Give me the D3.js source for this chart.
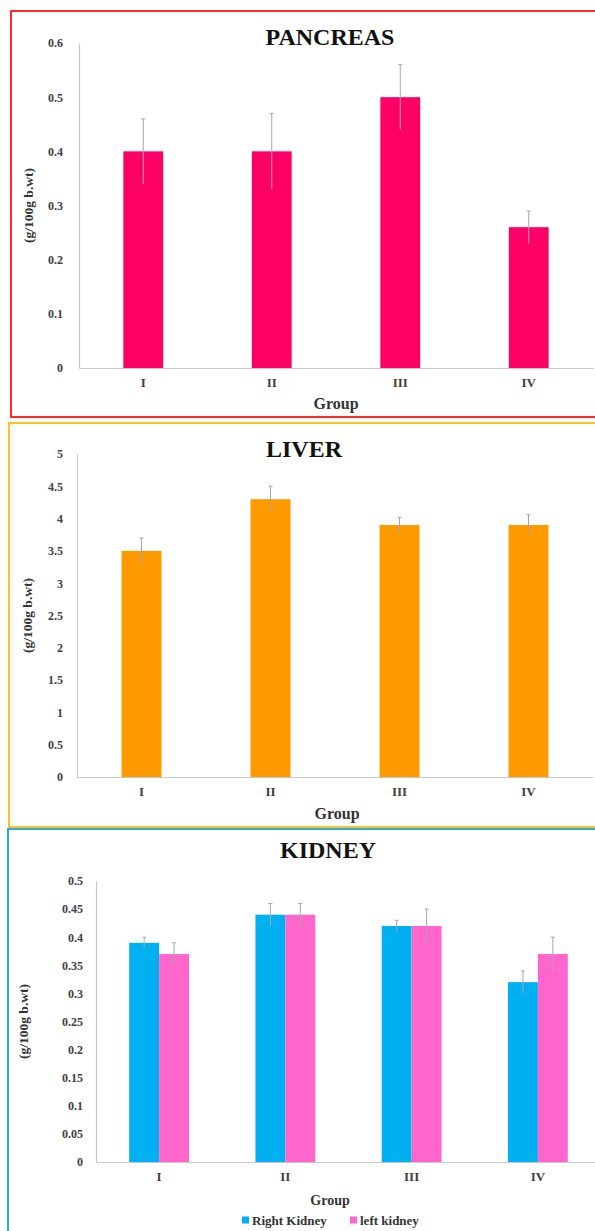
<!DOCTYPE html>
<html>
<head>
<meta charset="utf-8">
<script src="https://cdn.jsdelivr.net/npm/d3@7"></script>
<style>
  body { margin: 0; background: #fff; }
  svg { display: block; }
  .tick text { font-family: "Liberation Serif", "Times New Roman", serif; font-weight: bold; fill: #404040; }
  .title { font-family: "Liberation Serif", "Times New Roman", serif; font-weight: bold; font-size: 24px; fill: #111; }
  .label { font-family: "Liberation Serif", "Times New Roman", serif; font-weight: bold; fill: #333; }
</style>
</head>
<body>
<div id="chart"></div>
<script>
const width = 595;
const height = 1231;

// data
const groups = ["I", "II", "III", "IV"];

const pancreasMean = [0.40, 0.40, 0.50, 0.26];
const pancreasErr  = [0.06, 0.07, 0.06, 0.03];
const pancreasTicks = [0, 0.1, 0.2, 0.3, 0.4, 0.5, 0.6];

const liverMean = [3.5, 4.3, 3.9, 3.9];
const liverErr  = [0.2, 0.2, 0.12, 0.16];
const liverTicks = [0, 0.5, 1, 1.5, 2, 2.5, 3, 3.5, 4, 4.5, 5];

const rightKidneyMean = [0.39, 0.44, 0.42, 0.32];
const rightKidneyErr  = [0.01, 0.02, 0.01, 0.02];
const leftKidneyMean  = [0.37, 0.44, 0.42, 0.37];
const leftKidneyErr   = [0.02, 0.02, 0.03, 0.03];
const kidneyTicks = [0, 0.05, 0.1, 0.15, 0.2, 0.25, 0.3, 0.35, 0.4, 0.45, 0.5];
const kidneySeries = ["Right Kidney", "left kidney"];

const svg = d3.select("#chart").append("svg")
    .attr("width", width)
    .attr("height", height);

// one panel = frame + axes + bars
function panel(opt) {
    const g = svg.append("g");

    g.append("rect")
        .attr("x", opt.box[0])
        .attr("y", opt.box[1])
        .attr("width", opt.box[2])
        .attr("height", opt.box[3])
        .attr("fill", "none")
        .attr("stroke", opt.frame)
        .attr("stroke-width", 2);

    const x = d3.scaleBand().domain(groups).range([opt.x0, opt.x1]);
    const y = d3.scaleLinear().domain([0, d3.max(opt.ticks)]).range([opt.y0, opt.yTop]);

    const yaxis = d3.axisLeft(y)
        .tickValues(opt.ticks)
        .tickFormat(d3.format(opt.fmt))
        .tickSize(0)
        .tickPadding(opt.tickPad);
    const ya = g.append("g")
        .attr("transform", "translate(" + opt.x0 + ",0)")
        .call(yaxis);
    ya.select(".domain").attr("stroke", "#c8c8c8").attr("stroke-width", 1.2);
    ya.selectAll("text").style("font-size", opt.tickFont + "px");

    const xaxis = d3.axisBottom(x).tickSize(0).tickPadding(10).tickSizeOuter(0);
    const xa = g.append("g")
        .attr("transform", "translate(0," + opt.y0 + ")")
        .call(xaxis);
    xa.select(".domain").attr("stroke", "#c8c8c8").attr("stroke-width", 1.2);
    xa.selectAll("text").style("font-size", "13px");

    // bars
    const inner = d3.scaleBand()
        .domain(d3.range(opt.series.length))
        .range([0, x.bandwidth() * opt.barFrac * opt.series.length]);
    const groupW = inner.range()[1];

    opt.series.forEach(function(s, si) {
        const rows = groups.map(function(k, i) {
            return { key: k, mean: s.mean[i], err: s.err[i] };
        });
        const bx = function(d) {
            return x(d.key) + (x.bandwidth() - groupW) / 2 + inner(si);
        };
        g.selectAll(null)
            .data(rows)
            .enter()
            .append("rect")
            .attr("x", bx)
            .attr("y", function(d) { return y(d.mean); })
            .attr("width", inner.bandwidth())
            .attr("height", function(d) { return opt.y0 - y(d.mean); })
            .attr("fill", s.color);

        const eb = g.selectAll(null)
            .data(rows)
            .enter()
            .append("g")
            .attr("stroke", "#a6a6a6")
            .attr("stroke-width", 1);
        eb.append("line")
            .attr("x1", function(d) { return bx(d) + inner.bandwidth() / 2; })
            .attr("x2", function(d) { return bx(d) + inner.bandwidth() / 2; })
            .attr("y1", function(d) { return y(d.mean - d.err); })
            .attr("y2", function(d) { return y(d.mean + d.err); });
        eb.append("line")
            .attr("x1", function(d) { return bx(d) + inner.bandwidth() / 2 - 2; })
            .attr("x2", function(d) { return bx(d) + inner.bandwidth() / 2 + 2; })
            .attr("y1", function(d) { return y(d.mean + d.err); })
            .attr("y2", function(d) { return y(d.mean + d.err); });
    });

    g.append("text")
        .attr("class", "title")
        .attr("x", opt.titleX)
        .attr("y", opt.titleY)
        .attr("text-anchor", "middle")
        .text(opt.title);

    g.append("text")
        .attr("class", "label")
        .attr("transform", "translate(" + opt.yLabelX + "," + ((opt.y0 + opt.yTop) / 2) + ") rotate(-90)")
        .attr("text-anchor", "middle")
        .attr("dy", "0.35em")
        .style("font-size", "13.5px")
        .text("(g/100g b.wt)");

    g.append("text")
        .attr("class", "label")
        .attr("x", opt.groupX)
        .attr("y", opt.groupY)
        .attr("text-anchor", "middle")
        .attr("dy", "0.35em")
        .style("font-size", opt.groupFont + "px")
        .text("Group");

    return g;
}

panel({
    box: [11, 11, 600, 406], frame: "#ff2a2a",
    x0: 79, x1: 593, y0: 368, yTop: 43,
    ticks: pancreasTicks, fmt: ".1~f", tickPad: 16, tickFont: 12,
    barFrac: 0.31,
    series: [{ mean: pancreasMean, err: pancreasErr, color: "#ff0066" }],
    title: "PANCREAS", titleX: 330, titleY: 45,
    yLabelX: 28, groupX: 336, groupY: 403, groupFont: 16
});

panel({
    box: [9, 423, 600, 404], frame: "#ffc020",
    x0: 77, x1: 593, y0: 777, yTop: 454,
    ticks: liverTicks, fmt: ".1~f", tickPad: 14, tickFont: 12,
    barFrac: 0.31,
    series: [{ mean: liverMean, err: liverErr, color: "#ff9900" }],
    title: "LIVER", titleX: 304, titleY: 457,
    yLabelX: 27, groupX: 337, groupY: 813, groupFont: 16
});

const kidney = panel({
    box: [8, 829, 600, 410], frame: "#22b0e8",
    x0: 96, x1: 601, y0: 1162, yTop: 881,
    ticks: kidneyTicks, fmt: ".2~f", tickPad: 13, tickFont: 12,
    barFrac: 0.237,
    series: [
        { mean: rightKidneyMean, err: rightKidneyErr, color: "#00b0f0" },
        { mean: leftKidneyMean, err: leftKidneyErr, color: "#ff66cc" }
    ],
    title: "KIDNEY", titleX: 328, titleY: 858,
    yLabelX: 23, groupX: 330, groupY: 1200, groupFont: 14
});

// legend
const legendColors = ["#00b0f0", "#ff66cc"];
const legendX = [242, 350];
const leg = kidney.selectAll(".leg")
    .data(kidneySeries)
    .enter()
    .append("g")
    .attr("transform", function(d, i) { return "translate(" + legendX[i] + ",1220)"; });
leg.append("rect")
    .attr("x", 0)
    .attr("y", -3.5)
    .attr("width", 7)
    .attr("height", 7)
    .attr("fill", function(d, i) { return legendColors[i]; });
leg.append("text")
    .attr("class", "label")
    .attr("x", 10)
    .attr("dy", "0.35em")
    .style("font-size", "13px")
    .text(function(d) { return d; });
</script>
</body>
</html>
